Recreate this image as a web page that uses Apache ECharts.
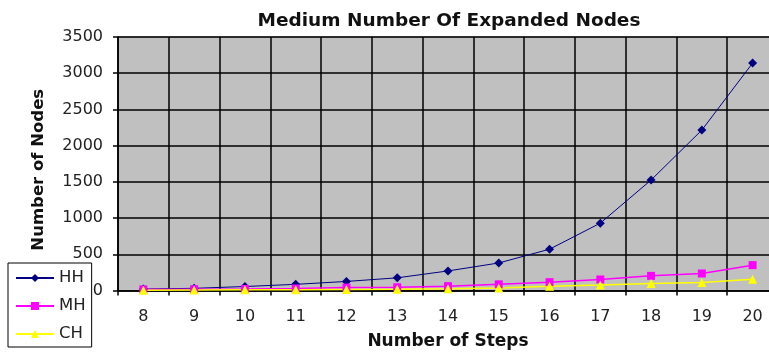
<!DOCTYPE html>
<html>
<head>
<meta charset="utf-8">
<script src="https://cdn.jsdelivr.net/npm/echarts@6/dist/echarts.min.js"></script>
<style>
  html, body { margin: 0; padding: 0; background: #fff; }
  #chart { width: 769px; height: 356px; }
</style>
</head>
<body>
<div id="chart"></div>
<script>
// Steps in the search and expanded node counts per heuristic
const steps = ['8', '9', '10', '11', '12', '13', '14', '15', '16', '17', '18', '19', '20'];
const hh = [20, 30, 55, 85, 125, 175, 270, 380, 570, 930, 1525, 2215, 3140];
const mh = [15, 18, 22, 28, 40, 45, 60, 85, 115, 152, 202, 235, 350];
const ch = [5, 8, 10, 12, 15, 18, 25, 35, 60, 75, 97, 110, 155];
const yTicks = { min: 0, max: 3500, interval: 500 };

const font = 'DejaVu Sans, Verdana, sans-serif';
const chart = echarts.init(document.getElementById('chart'), null, { renderer: 'canvas' });

chart.setOption({
  animation: false,
  backgroundColor: '#ffffff',
  title: {
    text: 'Medium Number Of Expanded Nodes',
    left: 444,
    top: 7,
    textAlign: 'center',
    textStyle: { fontFamily: font, fontSize: 18.5, fontWeight: 'bold', color: '#111' }
  },
  grid: {
    left: 118,
    top: 37,
    width: 660,
    height: 253.5,
    outerBoundsMode: 'none',
    show: true,
    backgroundColor: '#c0c0c0',
    borderColor: '#808080',
    borderWidth: 1
  },
  legend: {
    orient: 'vertical',
    left: 8,
    top: 263,
    padding: [6.5, 6, 4.5, 7],
    itemGap: 11,
    itemWidth: 38,
    itemHeight: 10,
    backgroundColor: '#ffffff',
    borderColor: '#000000',
    borderWidth: 1,
    textStyle: { fontFamily: font, fontSize: 16.5, color: '#222' },
    data: ['HH', 'MH', 'CH']
  },
  xAxis: {
    type: 'category',
    data: steps,
    boundaryGap: true,
    name: 'Number of Steps',
    nameLocation: 'middle',
    nameGap: 43,
    nameTextStyle: { fontFamily: font, fontSize: 17, fontWeight: 'bold', color: '#111' },
    axisLine: { show: true, lineStyle: { color: '#000', width: 1.5 } },
    axisTick: { show: true, length: 5, lineStyle: { color: '#000', width: 1.5 } },
    axisLabel: { fontFamily: font, fontSize: 16, color: '#222', margin: 18 },
    splitLine: { show: true, lineStyle: { color: '#000', width: 1.5 } }
  },
  yAxis: {
    type: 'value',
    min: yTicks.min,
    max: yTicks.max,
    interval: yTicks.interval,
    name: 'Number of Nodes',
    nameLocation: 'middle',
    nameGap: 71,
    nameRotate: 90,
    nameTextStyle: { fontFamily: font, fontSize: 16.5, fontWeight: 'bold', color: '#111', padding: [0, 12, 0, 0] },
    axisLine: { show: true, lineStyle: { color: '#000', width: 1.5 } },
    axisTick: { show: true, length: 5, lineStyle: { color: '#000', width: 1.5 } },
    axisLabel: {
      fontFamily: font, fontSize: 16, color: '#222', margin: 15,
      formatter: v => String(v)
    },
    splitLine: { show: true, lineStyle: { color: '#000', width: 1.5 } }
  },
  series: [
    {
      name: 'HH', type: 'line', data: hh,
      symbol: 'diamond', symbolSize: 9,
      itemStyle: { color: '#000080' },
      lineStyle: { color: '#000080', width: 1 }
    },
    {
      name: 'MH', type: 'line', data: mh,
      symbol: 'rect', symbolSize: 8,
      itemStyle: { color: '#ff00ff' },
      lineStyle: { color: '#ff00ff', width: 1.5 }
    },
    {
      name: 'CH', type: 'line', data: ch,
      symbol: 'triangle', symbolSize: 9,
      itemStyle: { color: '#ffff00' },
      lineStyle: { color: '#ffff00', width: 1.5 }
    }
  ]
});
</script>
</body>
</html>
